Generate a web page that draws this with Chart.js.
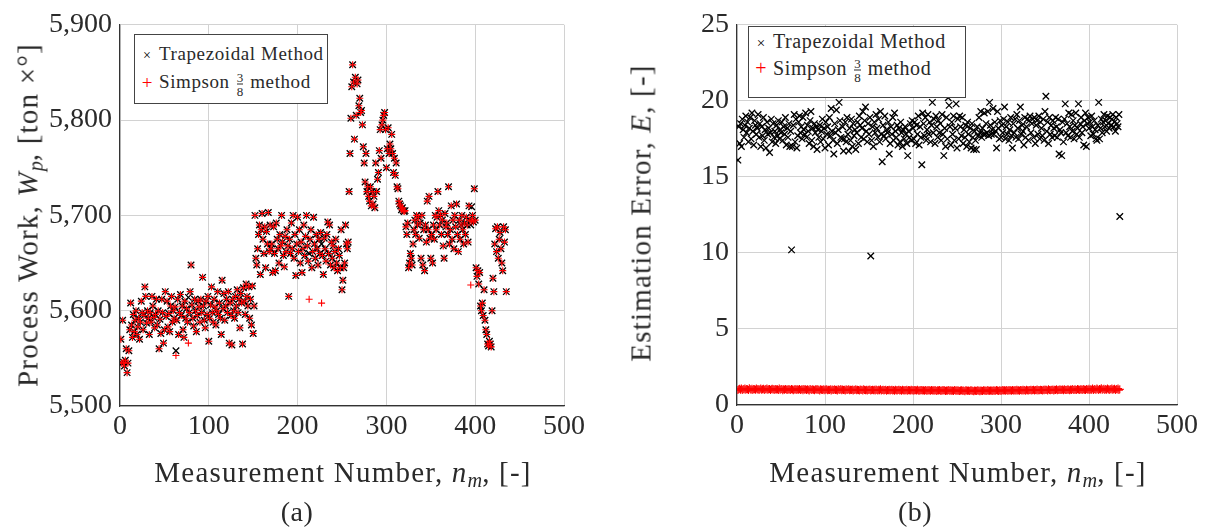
<!DOCTYPE html>
<html>
<head>
<meta charset="utf-8">
<script src="https://cdn.jsdelivr.net/npm/chart.js@4.4.0/dist/chart.umd.min.js"></script>
<style>
  body { margin: 0; background: #fff; width: 1210px; height: 529px; position: relative; overflow: hidden;
         font-family: "Liberation Serif", "DejaVu Serif", serif; color: #2a2a2a; }
  canvas { position: absolute; top: 0; }
  .t { position: absolute; white-space: nowrap; transform: translate(-50%, -50%); font-size: 29px; letter-spacing: 1.2px; }
  .rot { transform: translate(-50%, -50%) rotate(-90deg); }
  .t sub { font-size: 70%; vertical-align: -0.25em; line-height: 0; letter-spacing: 0; }
  .cap { font-size: 28px; letter-spacing: 0.5px; }
  .leg { position: absolute; border: 1px solid #444; background: #fff; }
  .row { position: absolute; left: 0; white-space: nowrap; transform: translateY(-50%); font-size: 19px; letter-spacing: 0.6px; }
  .mk { display: inline-block; width: 24px; text-align: center; letter-spacing: 0; }
  .frac { display: inline-block; vertical-align: middle; text-align: center; font-size: 13px; line-height: 13px; margin: 0 7px; letter-spacing: 0; }
  .frac span { display: block; }
  .frac span:first-child { border-bottom: 1px solid #2a2a2a; }
</style>
</head>
<body>
<canvas id="workChart" width="600" height="529" style="left:0"></canvas>
<canvas id="errorChart" width="610" height="529" style="left:600px"></canvas>

<div class="leg" style="left:134px;top:34px;width:192px;height:68px">
  <div class="row" style="top:19px"><span class="mk" style="color:#000;font-size:14px">×</span>Trapezoidal Method</div>
  <div class="row" style="top:49px"><span class="mk" style="color:#f00">+</span>Simpson<span class="frac"><span>3</span><span>8</span></span>method</div>
</div>
<div class="leg" style="left:748px;top:26px;width:216px;height:70px">
  <div class="row" style="top:14px;font-size:20px"><span class="mk" style="color:#000;font-size:15px">×</span>Trapezoidal Method</div>
  <div class="row" style="top:43px;font-size:20px"><span class="mk" style="color:#f00">+</span>Simpson<span class="frac"><span>3</span><span>8</span></span>method</div>
</div>

<div class="t" style="left:343px;top:472px">Measurement Number, <i>n<sub>m</sub></i>, [-]</div>
<div class="t rot" style="left:28px;top:215px">Process Work, <i>W<sub>p</sub></i>, [ton ×°]</div>
<div class="t cap" style="left:297px;top:512px">(a)</div>
<div class="t" style="left:958px;top:472px">Measurement Number, <i>n<sub>m</sub></i>, [-]</div>
<div class="t rot" style="left:641px;top:213px">Estimation Error, <i>E</i>, [-]</div>
<div class="t cap" style="left:915px;top:512px">(b)</div>

<script>
// process work, trapezoidal rule, measurements 1..435
const trapWork = [
  5570, 5545, 5590, 5546, 5542, 5548, 5560, 5535, 5545, 5558,
  5580, 5608, 5585, 5572, 5596, 5578, 5590, 5600, 5575, 5583,
  5592, 5570, 5588, 5610, 5598, 5580, 5595, 5625, 5615, 5587,
  5600, 5592, 5575, 5598, 5588, 5615, 5605, 5593, 5582, 5596,
  5612, 5585, 5600, 5560, 5591, 5576, 5612, 5598, 5566, 5580,
  5620, 5594, 5610, 5583, 5597, 5578, 5605, 5615, 5588, 5600,
  5592, 5604, 5558, 5590, 5612, 5575, 5598, 5617, 5595, 5605,
  5580, 5572, 5610, 5592, 5602, 5588, 5614, 5598, 5620, 5648,
  5606, 5592, 5584, 5612, 5600, 5578, 5595, 5610, 5604, 5588,
  5612, 5598, 5635, 5605, 5590, 5582, 5610, 5596, 5615, 5568,
  5592, 5606, 5625, 5598, 5588, 5612, 5604, 5585, 5600, 5620,
  5596, 5608, 5592, 5575, 5632, 5602, 5618, 5590, 5605, 5612,
  5598, 5620, 5566, 5608, 5595, 5564, 5612, 5600, 5592, 5615,
  5605, 5622, 5598, 5612, 5582, 5618, 5608, 5565, 5624, 5610,
  5596, 5628, 5615, 5605, 5625, 5592, 5612, 5585, 5626, 5576,
  5605, 5700, 5655, 5648, 5665, 5680, 5690, 5638, 5685, 5702,
  5675, 5660, 5688, 5645, 5683, 5670, 5703, 5662, 5690, 5665,
  5670, 5640, 5688, 5660, 5642, 5692, 5675, 5665, 5650, 5680,
  5668, 5700, 5672, 5658, 5646, 5678, 5662, 5685, 5668, 5615,
  5675, 5660, 5692, 5665, 5700, 5655, 5680, 5637, 5670, 5698,
  5662, 5685, 5650, 5672, 5640, 5665, 5690, 5658, 5678, 5700,
  5668, 5652, 5660, 5675, 5685, 5645, 5662, 5698, 5670, 5655,
  5680, 5665, 5648, 5675, 5660, 5682, 5670, 5658, 5638, 5676,
  5665, 5652, 5680, 5693, 5660, 5690, 5648, 5672, 5655, 5668,
  5645, 5662, 5675, 5650, 5642, 5665, 5658, 5645, 5685, 5622,
  5632, 5645, 5650, 5690, 5670, 5665, 5672, 5725, 5765, 5802,
  5835, 5858, 5840, 5780, 5845, 5805, 5838, 5842, 5815, 5823,
  5808, 5810, 5795, 5772, 5755, 5735, 5765, 5725, 5730, 5720,
  5715, 5730, 5710, 5725, 5712, 5720, 5708, 5755, 5725, 5738,
  5745, 5768, 5790, 5760, 5795, 5800, 5805, 5808, 5790, 5750,
  5770, 5792, 5765, 5775, 5770, 5785, 5765, 5745, 5760, 5742,
  5755, 5730, 5728, 5715, 5712, 5710, 5706, 5708, 5705, 5704,
  5705, 5688, 5680, 5692, 5645, 5650, 5660, 5655, 5648, 5670,
  5685, 5695, 5680, 5700, 5690, 5698, 5676, 5692, 5655, 5700,
  5648, 5685, 5642, 5690, 5672, 5715, 5685, 5720, 5676, 5655,
  5680, 5650, 5690, 5675, 5700, 5685, 5698, 5725, 5705, 5690,
  5700, 5680, 5695, 5668, 5655, 5702, 5688, 5692, 5680, 5730,
  5670, 5685, 5710, 5675, 5695, 5665, 5700, 5688, 5712, 5680,
  5662, 5695, 5675, 5690, 5700, 5685, 5670, 5692, 5680, 5698,
  5690, 5672, 5710, 5695, 5690, 5709, 5700, 5693, 5728, 5695,
  5645, 5636, 5642, 5628, 5640, 5605, 5600, 5608, 5595, 5622,
  5590, 5580, 5575, 5565, 5563, 5568, 5565, 5562, 5600, 5634,
  5620, 5670, 5686, 5662, 5688, 5655, 5675, 5682, 5665, 5650,
  5642, 5688, 5672, 5685, 5620
];

// simpson 3/8 sits on top of the trapezoidal points except at these measurements
const simpsonWorkDiff = [[63, 5553], [77, 5566], [213, 5612], [227, 5608], [395, 5627], [396, 5694]];

// estimation error, trapezoidal rule
const trapError = [
  16.1, 18.3, 17.2, 18.5, 17.0, 18.8, 18.1, 17.6, 18.4, 19.0,
  17.9, 18.6, 17.3, 18.2, 18.9, 17.5, 19.2, 18.0, 17.1, 18.7,
  18.4, 17.8, 18.2, 19.1, 17.6, 18.5, 17.0, 18.3, 17.7, 18.9,
  17.4, 18.1, 16.9, 18.6, 17.8, 18.2, 16.6, 17.9, 18.8, 17.3,
  18.5, 17.6, 18.0, 17.2, 18.4, 17.7, 18.7, 17.5, 18.1, 17.9,
  18.6, 17.4, 18.3, 17.8, 18.9, 17.1, 18.2, 17.6, 18.5, 17.0,
  18.0, 10.2, 17.0, 18.4, 19.1, 17.3, 18.8, 16.9, 17.7, 18.6,
  19.0, 17.9, 18.3, 17.5, 18.9, 18.1, 17.8, 19.2, 17.6, 18.4,
  18.0, 17.2, 18.7, 19.3, 17.4, 18.2, 17.0, 18.5, 17.9, 18.3,
  16.8, 18.1, 17.6, 18.4, 17.3, 18.0, 18.8, 17.5, 18.2, 16.9,
  18.6, 17.8, 18.3, 17.1, 18.9, 17.7, 19.5, 18.0, 17.4, 16.5,
  18.5, 17.9, 19.4, 17.2, 18.1, 19.9, 18.7, 17.6, 17.5, 18.3,
  16.7, 17.5, 18.6, 17.3, 18.9, 17.8, 16.7, 18.2, 17.4, 18.8,
  17.0, 18.5, 17.7, 18.1, 16.8, 17.9, 18.6, 17.2, 19.0, 18.4,
  17.6, 18.2, 19.3, 17.5, 18.7, 19.6, 18.0, 17.3, 18.5, 17.8,
  18.9, 9.8, 17.4, 18.3, 17.0, 18.6, 17.9, 19.1, 18.2, 17.6,
  18.8, 17.3, 19.3, 17.8, 16.0, 18.4, 17.7, 19.0, 17.5, 18.1,
  17.9, 18.6, 16.5, 17.2, 18.3, 17.8, 18.9, 17.4, 19.2, 18.0,
  17.6, 18.4, 17.1, 18.2, 17.3, 18.6, 17.9, 17.0, 18.1, 17.5,
  18.3, 17.8, 17.2, 16.4, 18.0, 17.6, 18.5, 17.4, 18.7, 18.2,
  17.5, 18.6, 17.2, 18.4, 17.8, 19.0, 17.1, 18.3, 17.6, 15.8,
  19.2, 18.5, 17.7, 18.9, 17.4, 18.1, 19.1, 17.8, 18.6, 17.3,
  18.4, 19.9, 17.9, 18.8, 17.2, 19.0, 18.3, 17.6, 18.7, 17.9,
  18.5, 17.4, 19.1, 17.8, 16.4, 18.2, 17.0, 18.9, 17.5, 20.2,
  19.7, 18.3, 17.1, 18.6, 17.8, 19.0, 17.4, 18.2, 19.8, 16.9,
  18.8, 17.5, 19.0, 18.3, 17.7, 18.9, 17.2, 18.1, 17.6, 18.4,
  17.0, 18.6, 17.8, 17.3, 18.2, 16.9, 18.5, 17.6, 16.8, 18.0,
  17.4, 16.8, 18.3, 17.7, 18.9, 17.9, 19.3, 17.6, 18.2, 17.8,
  19.2, 17.8, 18.5, 17.9, 19.3, 17.7, 19.9, 18.4, 17.8, 18.1,
  19.5, 17.8, 18.6, 18.0, 16.9, 19.3, 18.2, 17.5, 18.7, 17.6,
  18.4, 17.9, 18.8, 19.6, 17.5, 18.3, 17.8, 18.6, 17.4, 18.1,
  18.9, 17.7, 16.9, 18.5, 17.9, 18.8, 17.6, 19.1, 18.2, 17.5,
  18.7, 19.6, 17.8, 18.4, 18.0, 17.1, 18.9, 17.6, 18.3, 18.8,
  17.4, 18.7, 19.0, 17.9, 18.5, 18.8, 17.6, 18.9, 17.2, 18.4,
  18.7, 17.8, 19.0, 17.5, 18.6, 18.2, 17.7, 18.8, 17.4, 19.3,
  20.3, 18.0, 18.6, 17.2, 18.9, 17.8, 18.4, 17.6, 18.7, 18.2,
  17.7, 18.9, 18.3, 17.6, 18.8, 16.5, 18.1, 17.9, 16.4, 18.6,
  17.3, 18.8, 19.8, 17.9, 18.5, 17.7, 19.2, 18.3, 17.6, 19.1,
  18.0, 18.7, 17.5, 18.4, 19.2, 17.8, 18.2, 19.8, 17.6, 18.5,
  18.9, 17.9, 18.3, 17.1, 18.7, 19.2, 17.0, 18.5, 18.9, 18.2,
  18.6, 17.7, 19.0, 18.3, 17.8, 18.7, 18.1, 17.5, 17.4, 18.4,
  19.9, 17.5, 18.2, 18.8, 17.9, 18.6, 19.1, 18.3, 18.7, 18.0,
  19.0, 18.5, 18.2, 18.9, 18.4, 18.8, 19.1, 18.3, 18.6, 18.0,
  18.9, 18.5, 18.3, 19.1, 12.4
];

// estimation error, simpson 3/8 rule
const simpsonError = [
  0.98, 1.04, 1.07, 1.01, 1.09, 0.99, 1.05, 1.02, 1.08, 1.00,
  1.06, 1.03, 0.99, 1.10, 1.04, 1.01, 1.07, 0.98, 1.05, 1.03,
  1.00, 1.08, 1.02, 1.06, 0.99, 1.04, 1.09, 1.01, 1.03, 1.07,
  0.98, 1.05, 1.02, 1.08, 1.00, 1.04, 1.06, 0.99, 1.03, 1.07,
  1.01, 1.05, 0.98, 1.06, 1.02, 1.04, 0.99, 1.08, 1.01, 1.03,
  1.05, 0.97, 1.04, 1.00, 1.06, 1.02, 0.98, 1.05, 1.01, 1.03,
  0.99, 1.06, 1.02, 0.97, 1.04, 1.00, 1.05, 0.98, 1.03, 1.01,
  1.06, 0.99, 1.02, 1.04, 0.97, 1.05, 1.00, 1.03, 0.98, 1.04,
  1.01, 0.96, 1.05, 1.02, 0.99, 1.04, 1.00, 0.97, 1.03, 1.01,
  1.05, 0.98, 1.02, 0.96, 1.04, 1.00, 0.99, 1.03, 0.97, 1.02,
  1.00, 1.04, 0.97, 1.01, 0.99, 1.03, 0.96, 1.02, 1.00, 0.98,
  1.04, 0.99, 1.01, 0.96, 1.03, 1.00, 0.98, 1.05, 0.97, 1.02,
  0.99, 1.01, 0.96, 1.03, 0.98, 1.00, 1.04, 0.97, 1.01, 0.99,
  1.02, 0.96, 1.00, 0.98, 1.03, 0.97, 1.01, 0.99, 0.95, 1.02,
  0.98, 1.00, 0.96, 1.03, 0.99, 0.97, 1.01, 0.95, 1.00, 0.98,
  1.02, 0.96, 0.99, 1.01, 0.97, 1.00, 0.95, 1.02, 0.98, 0.96,
  1.00, 0.97, 1.03, 0.95, 0.99, 1.01, 0.96, 0.98, 1.00, 0.94,
  0.99, 0.97, 1.01, 0.95, 0.98, 1.00, 0.96, 0.99, 0.94, 1.01,
  0.97, 0.95, 0.99, 1.00, 0.96, 0.98, 0.94, 1.00, 0.97, 0.95,
  0.99, 0.96, 1.01, 0.94, 0.98, 0.97, 0.95, 1.00, 0.96, 0.98,
  0.94, 0.99, 0.97, 0.95, 1.00, 0.96, 0.93, 0.98, 0.96, 0.99,
  0.95, 0.97, 0.93, 0.99, 0.96, 0.94, 0.98, 0.95, 0.97, 0.93,
  0.99, 0.95, 0.97, 0.94, 0.98, 0.96, 0.92, 0.97, 0.95, 0.99,
  0.94, 0.96, 0.93, 0.98, 0.95, 0.97, 0.92, 0.96, 0.94, 0.98,
  0.95, 0.93, 0.97, 0.94, 0.96, 0.92, 0.98, 0.95, 0.93, 0.97,
  0.94, 0.96, 0.92, 0.95, 0.97, 0.93, 0.96, 0.94, 0.91, 0.97,
  0.95, 0.93, 0.96, 0.92, 0.95, 0.97, 0.93, 0.94, 0.91, 0.96,
  0.94, 0.92, 0.97, 0.93, 0.95, 0.91, 0.96, 0.94, 0.92, 0.97,
  0.95, 0.93, 0.96, 0.92, 0.98, 0.94, 0.93, 0.96, 0.95, 0.92,
  0.97, 0.94, 0.96, 0.93, 0.98, 0.95, 0.92, 0.97, 0.94, 0.96,
  0.93, 0.98, 0.95, 0.97, 0.94, 0.99, 0.96, 0.93, 0.98, 0.95,
  0.97, 0.94, 0.99, 0.96, 0.95, 0.98, 0.93, 1.00, 0.96, 0.97,
  0.94, 0.99, 0.97, 0.95, 1.00, 0.96, 0.98, 0.94, 1.01, 0.97,
  0.95, 0.99, 0.97, 1.01, 0.96, 0.98, 1.00, 0.95, 0.99, 0.97,
  1.02, 0.96, 0.99, 0.97, 1.01, 0.98, 0.95, 1.00, 0.97, 1.02,
  0.98, 1.00, 0.96, 1.03, 0.99, 0.97, 1.01, 0.98, 1.02, 0.96,
  1.00, 0.98, 1.03, 0.97, 1.01, 0.99, 1.04, 0.98, 1.00, 1.02,
  0.97, 1.03, 0.99, 1.01, 0.98, 1.04, 1.00, 0.97, 1.02, 0.99,
  1.05, 1.00, 0.98, 1.03, 1.01, 0.99, 1.06, 1.02, 0.98, 1.04,
  1.00, 1.03, 0.99, 1.06, 1.01, 0.98, 1.05, 1.02, 1.00, 1.07,
  0.99, 1.04, 1.01, 1.08, 0.98, 1.05, 1.02, 1.00, 1.09, 1.03,
  0.99, 1.06, 1.02, 1.10, 1.00, 1.04, 1.07, 0.98, 1.05, 1.01,
  1.08, 1.03, 0.99, 1.06, 1.02, 1.09, 1.00, 1.04, 1.07, 0.99,
  1.05, 1.02, 1.08, 0.98, 1.03
];

const xTicks = [0, 100, 200, 300, 400, 500];
const workTicks = [5500, 5600, 5700, 5800, 5900];
const errorTicks = [0, 5, 10, 15, 20, 25];

const simpsonWork = trapWork.slice();
simpsonWorkDiff.forEach(([n, v]) => { simpsonWork[n - 1] = v; });

const toPoints = (arr) => arr.map((v, i) => ({ x: i + 1, y: v }));

const font = { family: '"Liberation Serif", serif', size: 28 };
const gridColor = "#d2d2d2";
const axisColor = "#333";

function makeChart(id, trap, simp, yTicks, yWidth, padRight, xHeight, plusRadius) {
  return new Chart(document.getElementById(id), {
    type: "scatter",
    data: {
      datasets: [
        {
          label: "Trapezoidal Method",
          data: toPoints(trap),
          pointStyle: "crossRot",
          pointRadius: 4.6,
          borderColor: "#000",
          borderWidth: 1.3,
          order: 1,
        },
        {
          label: "Simpson 3/8 method",
          data: toPoints(simp),
          pointStyle: "cross",
          pointRadius: plusRadius,
          borderColor: "#ff0000",
          borderWidth: 1.1,
          order: 0,
        },
      ],
    },
    options: {
      responsive: false,
      animation: false,
      devicePixelRatio: 1,
      layout: { padding: { left: 0, top: 22, right: padRight, bottom: 0 } },
      plugins: { legend: { display: false }, tooltip: { enabled: false } },
      scales: {
        x: {
          type: "linear",
          min: xTicks[0],
          max: xTicks[xTicks.length - 1],
          afterBuildTicks: (s) => { s.ticks = xTicks.map((v) => ({ value: v })); },
          afterFit: (s) => { s.height = xHeight; },
          ticks: { font, color: "#2a2a2a", padding: 4, maxRotation: 0, autoSkip: false },
          grid: { color: gridColor, lineWidth: 1, drawTicks: false },
          border: { color: axisColor, width: 1.2 },
        },
        y: {
          type: "linear",
          min: yTicks[0],
          max: yTicks[yTicks.length - 1],
          afterBuildTicks: (s) => { s.ticks = yTicks.map((v) => ({ value: v })); },
          afterFit: (s) => { s.width = yWidth; },
          ticks: {
            font, color: "#2a2a2a", padding: 8, autoSkip: false,
            callback: (v) => v.toLocaleString("en-US"),
          },
          grid: { color: gridColor, lineWidth: 1, drawTicks: false },
          border: { color: axisColor, width: 1.2 },
        },
      },
    },
  });
}

makeChart("workChart", trapWork, simpsonWork, workTicks, 120, 36, 123, 3.5);
makeChart("errorChart", trapError, simpsonError, errorTicks, 137, 33, 124, 4);
</script>
</body>
</html>
